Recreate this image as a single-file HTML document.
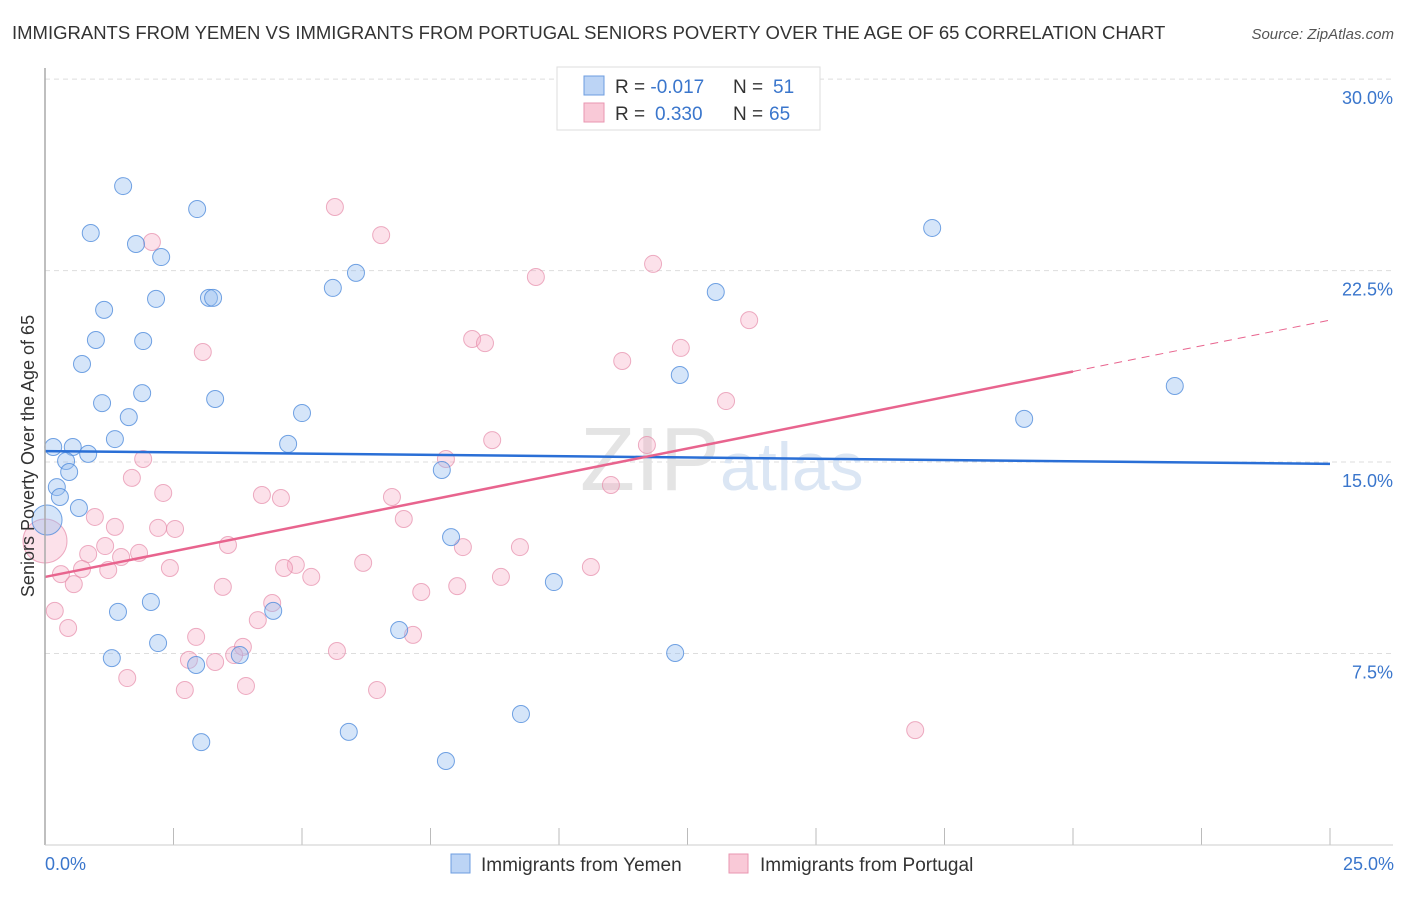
<!DOCTYPE html>
<html><head><meta charset="utf-8"><style>
body{margin:0;background:#fff;font-family:"Liberation Sans",sans-serif;}
svg text{font-family:"Liberation Sans",sans-serif;}
</style></head><body>
<svg width="1406" height="892" viewBox="0 0 1406 892">
<text x="12" y="39" font-size="18.5" fill="#333">IMMIGRANTS FROM YEMEN VS IMMIGRANTS FROM PORTUGAL SENIORS POVERTY OVER THE AGE OF 65 CORRELATION CHART</text>
<text x="1394" y="39" font-size="15" fill="#555" text-anchor="end" font-style="italic">Source: ZipAtlas.com</text>
<g id="grid"></g>
<g id="ticks"></g>
<text x="720" y="490" font-size="90" fill="#e4e4e4" text-anchor="end" font-family="Liberation Serif">ZIP</text>
<text x="720" y="490" font-size="68" fill="#dbe6f4">atlas</text>
<g id="pts"></g>
<g id="trends"></g>
<line x1="45" y1="68" x2="45" y2="845" stroke="#aaa" stroke-width="1.5"/>
<line x1="45" y1="845" x2="1393" y2="845" stroke="#ccc" stroke-width="1"/>
<text transform="translate(34,456) rotate(-90)" font-size="18" fill="#333" text-anchor="middle">Seniors Poverty Over the Age of 65</text>
<text x="45" y="870" font-size="18" fill="#3a76cc">0.0%</text>
<text x="1394" y="870" font-size="18" fill="#3a76cc" text-anchor="end">25.0%</text>
<g>
<rect x="557" y="67" width="263" height="63" fill="#fff" stroke="#ddd"/>
<rect x="584" y="76" width="20" height="19" fill="#bcd4f5" stroke="#6d9de0"/>
<rect x="584" y="103" width="20" height="19" fill="#f9c9d7" stroke="#e996b0"/>
<text x="615" y="93" font-size="19" fill="#333">R = <tspan fill="#3a76cc">-0.017</tspan><tspan x="733">N = </tspan><tspan x="773" fill="#3a76cc">51</tspan></text>
<text x="615" y="120" font-size="19" fill="#333">R = <tspan x="655" fill="#3a76cc">0.330</tspan><tspan x="733">N = </tspan><tspan x="769" fill="#3a76cc">65</tspan></text>
</g>
<g>
<rect x="451" y="854" width="19" height="19" fill="#bcd4f5" stroke="#6d9de0"/>
<text x="481" y="871" font-size="19" fill="#333">Immigrants from Yemen</text>
<rect x="729" y="854" width="19" height="19" fill="#f9c9d7" stroke="#e996b0"/>
<text x="760" y="871" font-size="19" fill="#333">Immigrants from Portugal</text>
</g>
</svg>
<script>
const yTicks=[7.5,15,22.5,30];
const yTickLabels=["7.5%","15.0%","22.5%","30.0%"];
const xTicks=[0,2.5,5,7.5,10,12.5,15,17.5,20,22.5,25];
const yemenX=[1.52,2.96,0.89,1.77,2.26,6.05,5.60,2.16,3.19,3.27,1.15,0.99,1.91,0.72,12.35,13.05,17.26,21.98,19.05,1.11,1.89,3.31,1.63,5.00,1.36,4.73,0.16,0.54,0.84,0.41,0.47,7.72,0.23,0.29,0.66,0.04,7.90,9.90,2.06,1.42,4.44,2.20,1.30,2.94,3.79,6.89,12.26,9.26,5.91,3.04,7.80];
const yemenY=[25.81,24.91,23.97,23.54,23.03,22.41,21.82,21.39,21.43,21.43,20.96,19.78,19.74,18.84,18.41,21.66,24.17,17.98,16.69,17.31,17.70,17.47,16.76,16.92,15.90,15.71,15.59,15.59,15.32,15.04,14.61,14.69,14.02,13.63,13.20,12.73,12.06,10.30,9.52,9.13,9.17,7.91,7.32,7.05,7.44,8.42,7.52,5.13,4.43,4.03,3.29];
const portX=[5.64,6.54,2.08,9.55,11.83,13.70,8.31,8.56,12.37,11.23,3.07,13.25,8.70,11.71,7.80,11.01,1.91,1.69,2.30,4.22,4.59,6.75,0.97,1.36,2.20,2.53,6.98,3.56,1.17,0.84,1.48,1.83,4.88,4.65,5.18,6.19,8.13,9.24,10.62,0.72,0.31,2.43,0.56,3.46,8.02,7.32,8.87,0.19,4.42,0.45,2.94,4.14,3.85,3.68,5.68,7.16,1.60,2.80,3.31,2.72,3.91,6.46,16.93,0.0,1.23];
const portY=[24.99,23.89,23.62,22.25,22.76,20.56,19.82,19.66,19.47,18.96,19.31,17.39,15.86,15.67,15.12,14.10,15.12,14.38,13.79,13.71,13.59,13.63,12.85,12.46,12.42,12.38,12.77,11.75,11.71,11.40,11.28,11.44,10.97,10.85,10.50,11.05,11.67,11.67,10.89,10.81,10.61,10.85,10.22,10.11,10.14,9.91,10.50,9.17,9.48,8.50,8.15,8.81,7.76,7.44,7.60,8.23,6.54,7.25,7.17,6.07,6.23,6.07,4.50,11.91,10.77];
const yemenTrend=[15.43,14.93];
const portTrend=[10.50,20.56];
const portSolidEnd=20.0;

const NS="http://www.w3.org/2000/svg";
const xs=v=>45+v*51.4;
const ys=v=>845-v*25.53;
function mk(tag,attrs,parent){const e=document.createElementNS(NS,tag);for(const k in attrs)e.setAttribute(k,attrs[k]);parent.appendChild(e);return e;}
const grid=document.getElementById('grid');
yTicks.forEach((t,i)=>{
  const l=mk('line',{x1:45,x2:1393,y1:ys(t),y2:ys(t),stroke:'#ddd','stroke-dasharray':'5,4'},grid);
  
  
  const tx=mk('text',{x:1393,y:ys(t)+25,'font-size':18,fill:'#3a76cc','text-anchor':'end'},grid);
  tx.textContent=yTickLabels[i];
  
  
});
const tk=document.getElementById('ticks');
xTicks.forEach(t=>{
  const l=mk('line',{x1:xs(t),x2:xs(t),y1:828,y2:845,stroke:'#bbb'},tk);
  
  
});
const pts=document.getElementById('pts');
portX.forEach((x,i)=>{
  const r=i===63?22:8.5;
  const c=mk('circle',{cx:xs(x),cy:ys(portY[i]),r:r,fill:'rgba(245,170,195,0.35)',stroke:'rgba(230,140,170,0.7)','stroke-width':1},pts);
  
  
});
yemenX.forEach((x,i)=>{
  const r=i===35?15:8.5;
  const c=mk('circle',{cx:xs(x),cy:ys(yemenY[i]),r:r,fill:'rgba(150,190,240,0.4)',stroke:'rgba(80,140,220,0.8)','stroke-width':1},pts);
  
  
});
const tr=document.getElementById('trends');
const pAt=v=>portTrend[0]+(portTrend[1]-portTrend[0])*v/25;
let l1=mk('line',{x1:xs(0),y1:ys(yemenTrend[0]),x2:xs(25),y2:ys(yemenTrend[1]),stroke:'#2a6fd6','stroke-width':2.5},tr);


let l2=mk('line',{x1:xs(0),y1:ys(pAt(0)),x2:xs(portSolidEnd),y2:ys(pAt(portSolidEnd)),stroke:'#e8648e','stroke-width':2.5},tr);


let l3=mk('line',{x1:xs(portSolidEnd),y1:ys(pAt(portSolidEnd)),x2:xs(25),y2:ys(pAt(25)),stroke:'#e8648e','stroke-width':1,'stroke-dasharray':'8,6'},tr);


</script>
</body></html>
